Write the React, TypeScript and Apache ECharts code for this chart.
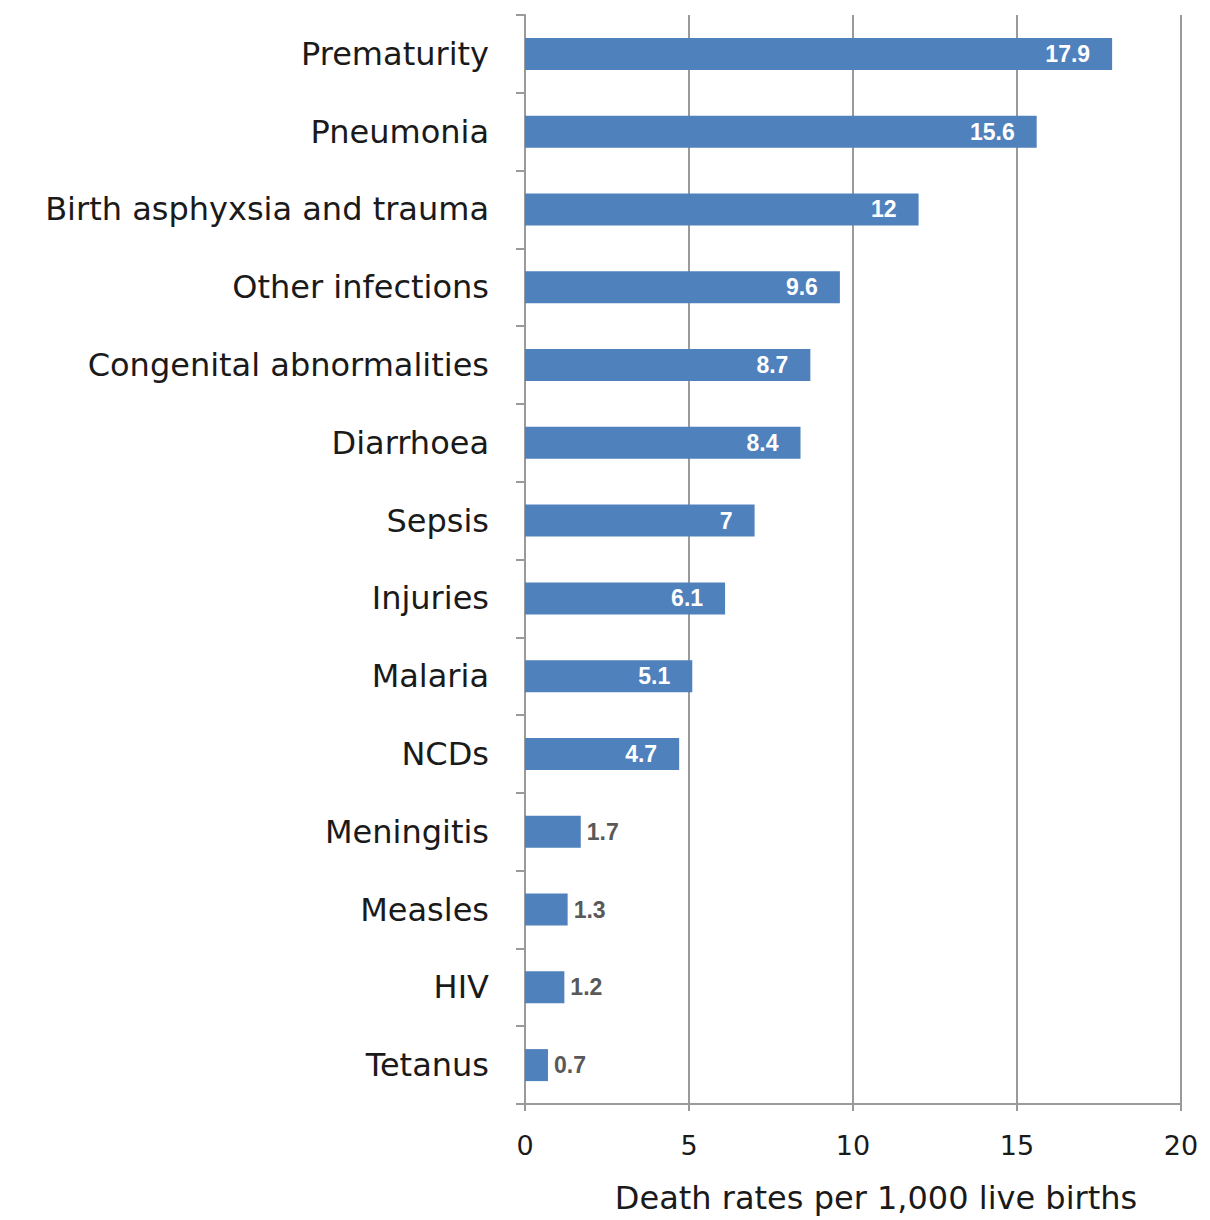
import React, { useEffect, useRef } from "react";
import * as echarts from "echarts";

const categories = [
  "Prematurity",
  "Pneumonia",
  "Birth asphyxsia and trauma",
  "Other infections",
  "Congenital abnormalities",
  "Diarrhoea",
  "Sepsis",
  "Injuries",
  "Malaria",
  "NCDs",
  "Meningitis",
  "Measles",
  "HIV",
  "Tetanus",
];
const values = [17.9, 15.6, 12, 9.6, 8.7, 8.4, 7, 6.1, 5.1, 4.7, 1.7, 1.3, 1.2, 0.7];
const xTicks = { min: 0, max: 20, interval: 5 };
const axisTitle = "Death rates per 1,000 live births";

export default function App() {
  const ref = useRef<HTMLDivElement>(null);
  useEffect(() => {
    document.body.style.margin = "0";
    const chart = echarts.init(ref.current!, null, { renderer: "svg" });
    const font = "'DejaVu Sans', Verdana, sans-serif";
    chart.setOption({
      animation: false,
      grid: { left: 525, top: 15, width: 656, height: 1089, containLabel: false },
      xAxis: {
        type: "value",
        min: xTicks.min,
        max: xTicks.max,
        interval: xTicks.interval,
        axisLine: { show: true, lineStyle: { color: "#9a9a9a", width: 2 } },
        axisTick: { show: true, length: 7, lineStyle: { color: "#9a9a9a", width: 2 } },
        axisLabel: { color: "#1a1a1a", fontSize: 27, fontFamily: font, margin: 28 },
        splitLine: { show: true, lineStyle: { color: "#9a9a9a", width: 2 } },
      },
      yAxis: {
        type: "category",
        inverse: true,
        data: categories,
        axisLine: { show: true, lineStyle: { color: "#9a9a9a", width: 2 } },
        axisTick: { show: true, length: 9, lineStyle: { color: "#9a9a9a", width: 2 } },
        axisLabel: { color: "#1a1a1a", fontSize: 32, fontFamily: font, margin: 36 },
      },
      graphic: [
        {
          type: "text",
          x: 876,
          y: 1198,
          style: {
            text: axisTitle,
            fontSize: 32,
            fontFamily: font,
            fill: "#1a1a1a",
            align: "center",
            verticalAlign: "middle",
          },
        },
      ],
      series: [
        {
          type: "bar",
          data: values.map((v) => ({
            value: v,
            label:
              v >= 4
                ? { position: "insideRight", color: "#ffffff", distance: 22 }
                : { position: "right", color: "#595959", distance: 6 },
          })),
          barWidth: 32,
          itemStyle: { color: "#4f81bd" },
          label: {
            show: true,
            fontSize: 23,
            fontWeight: "bold",
            fontFamily: "'Liberation Sans', Arial, sans-serif",
          },
        },
      ],
    });
    return () => chart.dispose();
  }, []);
  return <div ref={ref} style={{ width: 1210, height: 1220 }} />;
}
